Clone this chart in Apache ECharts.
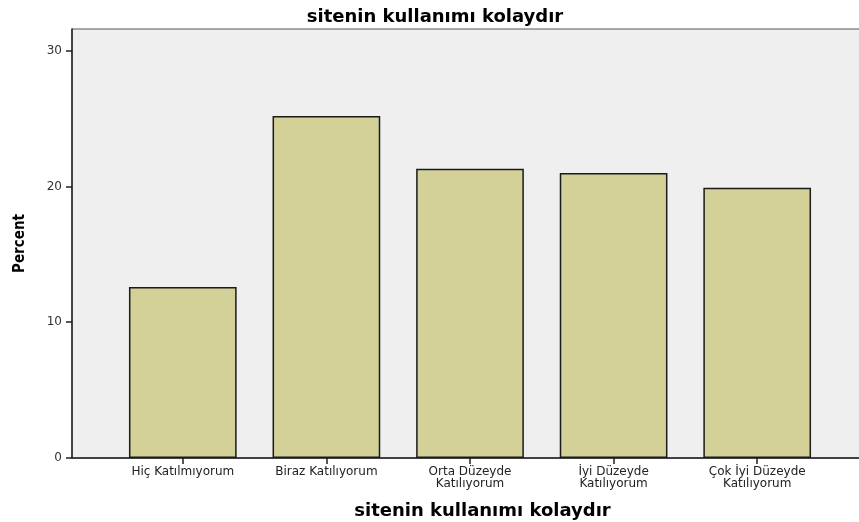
<!DOCTYPE html>
<html>
<head>
<meta charset="utf-8">
<script src="https://cdn.jsdelivr.net/npm/echarts@6/dist/echarts.min.js"></script>
<style>
  html, body { margin: 0; padding: 0; background: #fff; }
  #chart { width: 859px; height: 522px; }
</style>
</head>
<body>
<div id="chart"></div>
<script>
// kategoriler ve yüzdeler
var categories = ['Hiç Katılmıyorum', 'Biraz Katılıyorum', 'Orta Düzeyde\nKatılıyorum', 'İyi Düzeyde\nKatılıyorum', 'Çok İyi Düzeyde\nKatılıyorum'];
var percents = [12.6, 25.2, 21.3, 21.0, 19.9];
var yTicks = [0, 10, 20, 30];

var yMax = 31.6;
var myChart = echarts.init(document.getElementById('chart'));

var option = {
  animation: false,
  title: {
    text: 'sitenin kullanımı kolaydır',
    left: 430,
    textAlign: 'center',
    top: 3,
    textStyle: { fontFamily: 'DejaVu Sans', fontWeight: 'bold', fontSize: 18, color: '#000' }
  },
  grid: [
    // arka plan alanı
    { left: 72, right: -2, top: 29, bottom: 64, outerBoundsMode: 'none', containLabel: false,
      show: true, backgroundColor: '#efefef', borderColor: '#555', borderWidth: 1 },
    // çubuklar
    { left: 111, right: 30, top: 29, bottom: 64, outerBoundsMode: 'none', containLabel: false }
  ],
  xAxis: [
    {
      gridIndex: 0, type: 'value', min: 0, max: 1,
      axisLine: { show: true, lineStyle: { color: '#222', width: 1.5 } },
      axisTick: { show: false }, axisLabel: { show: false }, splitLine: { show: false },
      name: 'sitenin kullanımı kolaydır',
      nameLocation: 'middle',
      nameGap: 44,
      nameTextStyle: { fontFamily: 'DejaVu Sans', fontWeight: 'bold', fontSize: 18, color: '#000', padding: [0, 0, 0, 32] }
    },
    {
      gridIndex: 1, type: 'category', data: categories,
      axisLine: { show: false },
      axisTick: { show: true, alignWithLabel: true, length: 6, lineStyle: { color: '#222', width: 1.5 } },
      axisLabel: { fontFamily: 'DejaVu Sans', fontSize: 12, color: '#222', lineHeight: 12, margin: 8, interval: 0 }
    }
  ],
  yAxis: [
    {
      gridIndex: 0, type: 'value', min: 0, max: yMax, interval: 10,
      axisLine: { show: true, lineStyle: { color: '#222', width: 1.5 } },
      axisTick: { show: true, length: 6, lineStyle: { color: '#222', width: 1.5 } },
      axisLabel: {
        fontFamily: 'DejaVu Sans', fontSize: 12, color: '#333', margin: 10, showMaxLabel: false,
        formatter: function (v) { return yTicks.indexOf(v) >= 0 ? String(v) : ''; }
      },
      splitLine: { show: false },
      name: 'Percent',
      nameLocation: 'middle',
      nameGap: 44,
      nameRotate: 90,
      nameTextStyle: { fontFamily: 'DejaVu Sans Condensed, Liberation Sans', fontWeight: 'bold', fontSize: 15, color: '#000' }
    },
    {
      gridIndex: 1, type: 'value', min: 0, max: yMax, show: false
    }
  ],
  series: [
    {
      name: 'Percent',
      type: 'bar',
      xAxisIndex: 1,
      yAxisIndex: 1,
      data: percents,
      barCategoryGap: '25%',
      itemStyle: { color: '#d3d098', borderColor: '#1a1a1a', borderWidth: 1.5 }
    }
  ]
};
myChart.setOption(option);
</script>
</body>
</html>
